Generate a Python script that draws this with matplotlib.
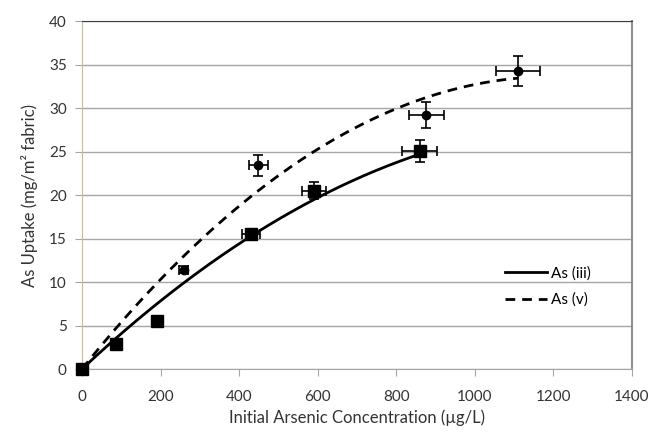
import numpy as np
import matplotlib.pyplot as plt

plt.rcParams['font.family'] = ['Lato', 'DejaVu Sans']
plt.rcParams['font.size'] = 11

# As (iii) - squares
conc_iii = [0, 86, 190, 431, 590, 860]
uptake_iii = [0, 2.9, 5.55, 15.5, 20.5, 25.05]
xerr_iii = [0, 0, 0, 23, 31, 44]
yerr_iii = [0, 0, 0, 0.5, 1.0, 1.28]

# As (v) - circles
conc_v = [0, 259, 449, 877, 1110]
uptake_v = [0, 11.4, 23.4, 29.2, 34.25]
xerr_v = [0, 12, 24, 45, 57]
yerr_v = [0, 0.4, 1.17, 1.47, 1.7]

# polynomial trendlines (y = a*x^2 + b*x + c)
trend_iii = [-1.58e-5, 0.0423, 0.0]
trend_v = [-2.35e-5, 0.0562, 0.0]

fig = plt.figure(figsize=(6.52, 4.33), dpi=100)
ax = fig.add_axes([0.1258, 0.1478, 0.969 - 0.1258, 0.9515 - 0.1478])

xs1 = np.linspace(0, max(conc_iii), 200)
xs2 = np.linspace(0, max(conc_v), 200)
ax.plot(xs1, np.polyval(trend_iii, xs1), color='k', linewidth=2, label='As (iii)', zorder=3)
ax.plot(xs2, np.polyval(trend_v, xs2), color='k', linewidth=2, linestyle=(0, (3.5, 2.5)), label='As (v)', zorder=3)

eb1 = ax.errorbar(conc_iii, uptake_iii, xerr=xerr_iii, yerr=yerr_iii, fmt='s', color='k',
                  markersize=8.5, elinewidth=1.2, capsize=3.5, capthick=1.2, zorder=4)
eb2 = ax.errorbar(conc_v, uptake_v, xerr=xerr_v, yerr=yerr_v, fmt='o', color='k',
                  markersize=6, elinewidth=1.2, capsize=3.5, capthick=1.2, zorder=4)
for eb in (eb1, eb2):
    eb[0].set_clip_on(False)

ax.set_xlim(0, 1400)
ax.set_ylim(0, 40)
ax.set_xticks(range(0, 1401, 200))
ax.set_yticks(range(0, 41, 5))
ax.yaxis.grid(True, color='#a6a6a6', linewidth=1)
ax.set_axisbelow(True)

ax.spines['left'].set_color('#c9bc94')
ax.spines['bottom'].set_color('#a6a6a6')
ax.spines['top'].set_color('#404040')
ax.spines['top'].set_linewidth(0.8)
ax.spines['right'].set_color('#909090')
ax.spines['right'].set_linewidth(1.5)
ax.tick_params(axis='x', color='#a6a6a6', length=5, pad=10, labelcolor='#333333')
ax.tick_params(axis='y', color='#a6a6a6', length=5, pad=6, labelcolor='#333333')

ax.set_xlabel('Initial Arsenic Concentration (µg/L)', color='#333333', labelpad=4, fontsize=12)
ax.set_ylabel('As Uptake (mg/m² fabric)', color='#333333', labelpad=8, fontsize=12)

ax.legend(loc='center left', bbox_to_anchor=(0.745, 0.237), frameon=False,
          handlelength=2.7, handletextpad=0.3, labelspacing=0.8)

fig.savefig('out.png', dpi=100)
